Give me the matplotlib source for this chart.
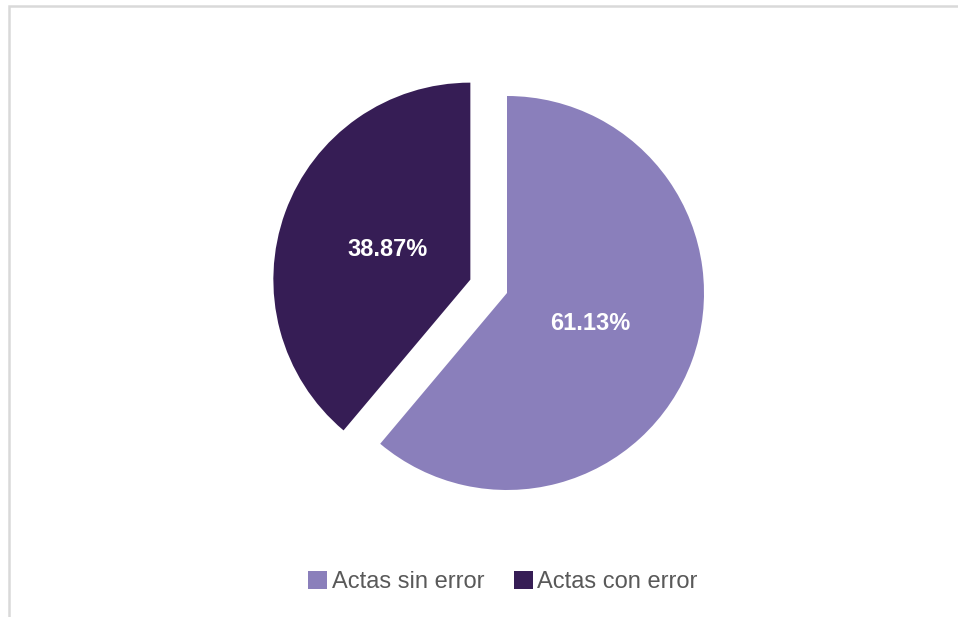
import matplotlib
import matplotlib.pyplot as plt
from matplotlib.patches import Rectangle

matplotlib.use("Agg")

labels = ["Actas sin error", "Actas con error"]
values = [61.13, 38.87]
colors = ["#8a7fbb", "#361d55"]

W, H = 958, 617
R = 197
# pie explode is in data units here (axes are in pixels)
explode = [0.0, 39.0]

plt.rcParams["font.family"] = ["Liberation Sans", "DejaVu Sans"]

fig = plt.figure(figsize=(W / 100, H / 100), dpi=100)
ax = fig.add_axes([0, 0, 1, 1])

wedges, _, autotexts = ax.pie(
    values,
    colors=colors,
    explode=explode,
    startangle=90,
    counterclock=False,
    center=(507, H - 293),
    radius=R,
    autopct=lambda p: f"{p:.2f}%",
    pctdistance=0.45,
    frame=True,
    textprops=dict(color="white", fontsize=17, fontweight="bold"),
)
ax.set_xlim(0, W)
ax.set_ylim(0, H)
ax.set_aspect("equal")
ax.axis("off")

# chart-area frame (top and left edges visible)
fig.add_artist(Rectangle((8.5 / W, -0.1), 1.2, (H - 5.5) / H + 0.1,
                         transform=fig.transFigure, fill=False,
                         edgecolor="#d9d9d9", linewidth=1.8))

fig.legend(
    wedges, labels,
    loc="center", bbox_to_anchor=(503 / W, 1 - 582 / H),
    ncol=2, frameon=False, fontsize=17,
    handlelength=0.8, handleheight=0.8, handletextpad=0.2,
    columnspacing=1.25, labelcolor="#595959",
)

fig.savefig("out.png", dpi=100)
